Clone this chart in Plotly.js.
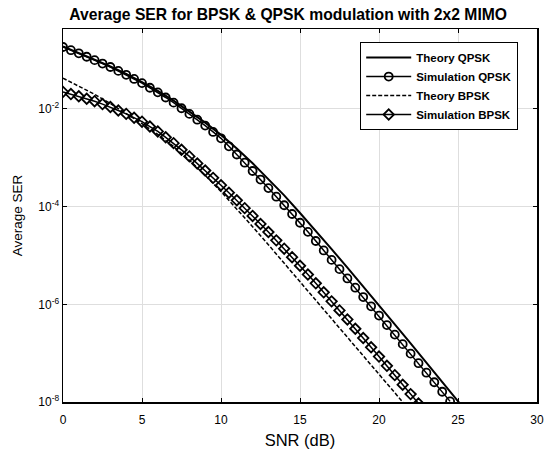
<!DOCTYPE html>
<html>
<head>
<meta charset="utf-8">
<script src="https://cdn.plot.ly/plotly-3.0.1.min.js"></script>
<style>html,body{margin:0;padding:0;background:#fff;}#chart{width:545px;height:452px;}</style>
</head>
<body>
<div id="chart"></div>
<script>
// SNR grids (dB)
const snrTheory = [0,1,2,3,4,5,6,7,8,9,10,11,12,13,14,15,16,17,18,19,20,21,22,23,24,25,26];
const snrSimQpsk = [0,0.5,1,1.5,2,2.5,3,3.5,4,4.5,5,5.5,6,6.5,7,7.5,8,8.5,9,9.5,10,10.5,11,11.5,12,12.5,13,13.5,14,14.5,15,15.5,16,16.5,17,17.5,18,18.5,19,19.5,20,20.5,21,21.5,22,22.5,23,23.5,24,24.5];
const snrSimBpsk = [0,0.5,1,1.5,2,2.5,3,3.5,4,4.5,5,5.5,6,6.5,7,7.5,8,8.5,9,9.5,10,10.5,11,11.5,12,12.5,13,13.5,14,14.5,15,15.5,16,16.5,17,17.5,18,18.5,19,19.5,20,20.5,21,21.5,22,22.5];
const snrTheoryBpsk = [0,1,2,3,4,5,6,7,8,9,10,11,12,13,14,15,16,17,18,19,20,21,22];

// Average SER values
const serTheoryQpsk = [0.1905,0.1413,0.1023,0.0741,0.0525,0.0355,0.0234,0.0148,8.91e-3,5.25e-3,2.95e-3,1.55e-3,7.76e-4,3.72e-4,1.70e-4,7.41e-5,3.24e-5,1.35e-5,5.62e-6,2.34e-6,9.55e-7,3.89e-7,1.58e-7,6.46e-8,2.57e-8,1.05e-8,4.17e-9];
const serSimQpsk = [0.186,0.160,0.138,0.1175,0.100,0.0851,0.0724,0.0603,0.0501,0.0412,0.0339,0.0272,0.0219,0.0172,0.0135,0.01035,7.94e-3,6.03e-3,4.57e-3,3.39e-3,2.51e-3,1.72e-3,1.17e-3,7.94e-4,5.37e-4,3.59e-4,2.40e-4,1.60e-4,1.07e-4,7.08e-5,4.68e-5,3.05e-5,1.98e-5,1.27e-5,8.13e-6,5.25e-6,3.39e-6,2.19e-6,1.41e-6,9.12e-7,5.89e-7,3.76e-7,2.40e-7,1.53e-7,9.77e-8,6.24e-8,3.98e-8,2.54e-8,1.62e-8,1.03e-8];
const serTheoryBpsk = [0.0427,0.0295,0.0200,0.0129,8.13e-3,5.01e-3,3.02e-3,1.70e-3,8.91e-4,4.37e-4,2.04e-4,9.12e-5,3.89e-5,1.66e-5,6.92e-6,2.95e-6,1.26e-6,5.25e-7,2.19e-7,9.12e-8,3.80e-8,1.58e-8,6.46e-9];
const serSimBpsk = [0.0224,0.0202,0.0182,0.0162,0.01445,0.0126,0.01096,9.33e-3,7.94e-3,6.61e-3,5.50e-3,4.37e-3,3.47e-3,2.63e-3,2.00e-3,1.46e-3,1.07e-3,7.67e-4,5.50e-4,3.89e-4,2.75e-4,1.93e-4,1.35e-4,9.33e-5,6.46e-5,4.42e-5,3.02e-5,2.04e-5,1.38e-5,9.23e-6,6.17e-6,4.07e-6,2.69e-6,1.76e-6,1.15e-6,7.50e-7,4.90e-7,3.16e-7,2.04e-7,1.32e-7,8.51e-8,5.50e-8,3.55e-8,2.26e-8,1.45e-8,9.33e-9];

// Tick labels
const xTicks = [0,5,10,15,20,25,30];
const yTickVals = [1e-8,1e-6,1e-4,1e-2];
const yTickText = ['10<sup>-8</sup>','10<sup>-6</sup>','10<sup>-4</sup>','10<sup>-2</sup>'];
const seriesNames = ['Theory QPSK','Simulation QPSK','Theory BPSK','Simulation BPSK'];

const FONT = 'Liberation Sans, Arial, sans-serif';

const traces = [
  {x: snrTheory, y: serTheoryQpsk, name: seriesNames[0], mode: 'lines', type: 'scatter',
   line: {color: '#000', width: 2}},
  {x: snrSimQpsk, y: serSimQpsk, name: seriesNames[1], mode: 'lines+markers', type: 'scatter',
   line: {color: '#000', width: 1.5},
   marker: {symbol: 'circle-open', size: 8, color: '#000', line: {color: '#000', width: 1.8}}},
  {x: snrTheoryBpsk, y: serTheoryBpsk, name: seriesNames[2], mode: 'lines', type: 'scatter',
   line: {color: '#000', width: 1.5, dash: '4px,2px'}},
  {x: snrSimBpsk, y: serSimBpsk, name: seriesNames[3], mode: 'lines+markers', type: 'scatter',
   line: {color: '#000', width: 1.5},
   marker: {symbol: 'diamond-open', size: 8, color: '#000', line: {color: '#000', width: 1.8}}}
];

const layout = {
  width: 545, height: 452,
  margin: {l: 63, r: 8, t: 29, b: 50},
  paper_bgcolor: '#fff', plot_bgcolor: '#fff',
  font: {family: FONT, color: '#000', size: 12},
  showlegend: true,
  title: {text: '<b>Average SER for BPSK &amp; QPSK modulation with 2x2 MIMO</b>',
          font: {family: FONT, size: 15.7, color: '#000'},
          x: 0.475, xref: 'paper', xanchor: 'center', y: 1 - 14.5/452, yref: 'container', yanchor: 'middle'},
  xaxis: {
    range: [0, 30], tickvals: xTicks, ticktext: xTicks.map(String),
    showline: true, linecolor: '#000', linewidth: 1.5, mirror: 'ticks',
    ticks: 'inside', ticklen: 4, tickcolor: '#000', tickwidth: 1,
    showgrid: true, gridcolor: '#dedede', gridwidth: 1, zeroline: false,
    ticklabelstandoff: 6,
    tickfont: {family: FONT, size: 12, color: '#000'},
    title: {text: 'SNR (dB)', font: {family: FONT, size: 16.5, color: '#000'}, standoff: 8}
  },
  yaxis: {
    type: 'log', range: [-8, -0.362], tickvals: yTickVals, ticktext: yTickText,
    showline: true, linecolor: '#000', linewidth: 1.5, mirror: 'ticks',
    ticks: 'inside', ticklen: 4, tickcolor: '#000', tickwidth: 1,
    showgrid: true, gridcolor: '#dedede', gridwidth: 1, zeroline: false,
    tickfont: {family: FONT, size: 12, color: '#000'},
    title: {text: 'Average SER', font: {family: FONT, size: 13.5, color: '#000'}, standoff: 12}
  },
  legend: {
    x: 0.627, y: 0.965, xanchor: 'left', yanchor: 'top',
    bgcolor: '#fff', bordercolor: '#000', borderwidth: 1,
    font: {family: FONT, size: 11.5, color: '#000', weight: 'bold'},
    itemwidth: 45, tracegroupgap: 0
  }
};

Plotly.newPlot('chart', traces, layout, {displayModeBar: false, staticPlot: true});
</script>
</body>
</html>
